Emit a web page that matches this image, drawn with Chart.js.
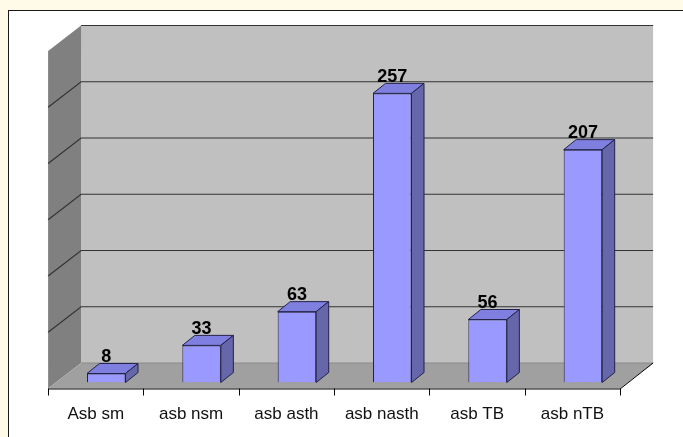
<!DOCTYPE html>
<html>
<head>
<meta charset="utf-8">
<script src="https://cdn.jsdelivr.net/npm/chart.js@4/dist/chart.umd.min.js"></script>
<style>
  html, body { margin: 0; padding: 0; background: #fffbe8; overflow: hidden; }
  #panel { position: absolute; left: 8px; top: 10px; width: 720px; height: 470px; background: #fff; border: 1px solid #1a1a1a; }
  #wrap { position: absolute; left: 0; top: 0; width: 683px; height: 437px; }
</style>
</head>
<body>
<div id="panel"></div>
<div id="wrap"><canvas id="chart" width="683" height="437"></canvas></div>
<script>
const categories = ["Asb sm", "asb nsm", "asb asth", "asb nasth", "asb TB", "asb nTB"];
const counts = [8, 33, 63, 257, 56, 207];
const valueMax = 300;
const gridStep = 50;

// oblique offsets, measured from the plane of the bar front faces
const WALL_DX = 22.5, WALL_DY = -19.5;   // back wall
const FRONT_DX = -10.5, FRONT_DY = 6;    // front edge of the floor
const BAR_DX = 12.5, BAR_DY = -10;       // bar depth

const depth3d = {
  id: "depth3d",
  beforeDatasetsDraw(chart) {
    const { ctx, chartArea: a, scales: { y } } = chart;
    const y0 = y.getPixelForValue(0);
    const yTop = y.getPixelForValue(valueMax);
    const wallL = a.left + WALL_DX, wallR = a.right + WALL_DX;
    const floorL = a.left + FRONT_DX, floorR = a.right + FRONT_DX;
    ctx.save();

    // back wall
    ctx.fillStyle = "#c0c0c0";
    ctx.fillRect(wallL, yTop + WALL_DY, wallR - wallL, y0 - yTop);

    // side wall
    ctx.fillStyle = "#808080";
    ctx.beginPath();
    ctx.moveTo(floorL, yTop + FRONT_DY);
    ctx.lineTo(wallL, yTop + WALL_DY);
    ctx.lineTo(wallL, y0 + WALL_DY);
    ctx.lineTo(floorL, y0 + FRONT_DY);
    ctx.closePath();
    ctx.fill();

    // floor
    ctx.fillStyle = "#a0a0a0";
    ctx.beginPath();
    ctx.moveTo(floorL, y0 + FRONT_DY);
    ctx.lineTo(wallL, y0 + WALL_DY);
    ctx.lineTo(wallR, y0 + WALL_DY);
    ctx.lineTo(floorR, y0 + FRONT_DY);
    ctx.closePath();
    ctx.fill();

    // gridlines on back and side walls
    ctx.strokeStyle = "#333";
    ctx.lineWidth = 1.2;
    for (let v = gridStep; v <= valueMax; v += gridStep) {
      const py = y.getPixelForValue(v);
      ctx.beginPath();
      if (v < valueMax) ctx.moveTo(floorL, py + FRONT_DY);
      else ctx.moveTo(wallL, py + WALL_DY);
      ctx.lineTo(wallL, py + WALL_DY);
      ctx.lineTo(wallR, py + WALL_DY);
      ctx.stroke();
    }
    ctx.strokeStyle = "#8a8a8a";
    ctx.lineWidth = 1;
    ctx.beginPath();
    ctx.moveTo(wallL, y0 + WALL_DY);
    ctx.lineTo(wallR, y0 + WALL_DY);
    ctx.stroke();

    // category axis on the front edge of the floor
    const catW = (a.right - a.left) / categories.length;
    ctx.strokeStyle = "#000";
    ctx.lineWidth = 1;
    ctx.beginPath();
    ctx.moveTo(floorL, y0 + FRONT_DY + 0.5);
    ctx.lineTo(floorR, y0 + FRONT_DY + 0.5);
    ctx.lineTo(wallR, y0 + WALL_DY);
    for (let i = 0; i <= categories.length; i++) {
      const tx = Math.round(floorL + i * catW) + 0.5;
      ctx.moveTo(tx, y0 + FRONT_DY);
      ctx.lineTo(tx, y0 + FRONT_DY + 7);
    }
    ctx.stroke();
    ctx.restore();
  },
  afterDatasetsDraw(chart) {
    const { ctx, scales: { x } } = chart;
    const bars = chart.getDatasetMeta(0).data;
    ctx.save();
    ctx.strokeStyle = "#22224a";
    ctx.lineWidth = 1;
    ctx.lineJoin = "round";
    bars.forEach((bar, i) => {
      const { x: cx, y: top, base, width } = bar.getProps(["x", "y", "base", "width"], true);
      const l = cx - width / 2, r = cx + width / 2;
      // top face
      ctx.fillStyle = "#7f7fe0";
      ctx.beginPath();
      ctx.moveTo(l, top);
      ctx.lineTo(l + BAR_DX, top + BAR_DY);
      ctx.lineTo(r + BAR_DX, top + BAR_DY);
      ctx.lineTo(r, top);
      ctx.closePath();
      ctx.fill();
      ctx.stroke();
      // side face
      ctx.fillStyle = "#6666aa";
      ctx.beginPath();
      ctx.moveTo(r, top);
      ctx.lineTo(r + BAR_DX, top + BAR_DY);
      ctx.lineTo(r + BAR_DX, base + BAR_DY);
      ctx.lineTo(r, base);
      ctx.closePath();
      ctx.fill();
      ctx.stroke();
      // value label
      ctx.fillStyle = "#000";
      ctx.font = "bold 18px 'Liberation Sans', Arial, sans-serif";
      ctx.textAlign = "center";
      ctx.textBaseline = "alphabetic";
      ctx.fillText(String(counts[i]), cx, top + BAR_DY - 1.5);
    });

    // category labels, centred on the floor front edge
    ctx.font = "17px 'Liberation Sans', Arial, sans-serif";
    ctx.fillStyle = "#111";
    categories.forEach((label, i) => {
      ctx.fillText(label, x.getPixelForValue(i) + FRONT_DX, 419);
    });
    ctx.restore();
  }
};

new Chart(document.getElementById("chart"), {
  type: "bar",
  data: {
    labels: categories,
    datasets: [{
      data: counts,
      backgroundColor: "#9999ff",
      borderColor: "#22224a",
      borderWidth: 1,
      barPercentage: 0.404,
      categoryPercentage: 1
    }]
  },
  options: {
    responsive: false,
    animation: false,
    devicePixelRatio: 1,
    layout: { padding: { left: 58.6, right: 52.4, top: 45, bottom: 54.5 } },
    scales: {
      x: { display: false },
      y: { display: false, min: 0, max: valueMax }
    },
    plugins: { legend: { display: false }, tooltip: { enabled: false } }
  },
  plugins: [depth3d]
});
</script>
</body>
</html>
